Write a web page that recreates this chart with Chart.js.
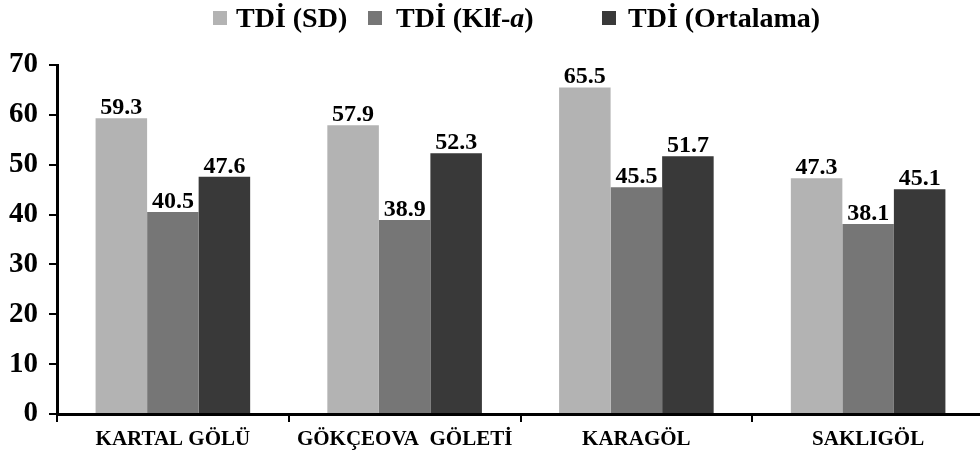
<!DOCTYPE html>
<html>
<head>
<meta charset="utf-8">
<script src="https://cdn.jsdelivr.net/npm/chart.js@4/dist/chart.umd.min.js"></script>
<style>
  html, body { margin:0; padding:0; background:#fff; }
  #wrap { position:relative; width:980px; height:453px; overflow:hidden; }
  #cv { position:absolute; left:0; top:0; }
  .leg { position:absolute; top:4px; font-family:"Liberation Serif","Times New Roman",serif; font-weight:bold; font-size:28px; line-height:28px; color:#000; white-space:nowrap; }
  .box { position:absolute; top:11px; width:14px; height:14px; }
</style>
</head>
<body>
<div id="wrap">
  <canvas id="cv" width="984" height="453" style="width:984px;height:453px"></canvas>
</div>
<script>
const categories = ["KARTAL GÖLÜ", "GÖKÇEOVA  GÖLETİ", "KARAGÖL", "SAKLIGÖL"];
const seriesNames = ["TDİ (SD)", "TDİ (Klf-a)", "TDİ (Ortalama)"];
const tdiSD = [59.3, 57.9, 65.5, 47.3];
const tdiKlfA = [40.5, 38.9, 45.5, 38.1];
const tdiOrtalama = [47.6, 52.3, 51.7, 45.1];
const yTicks = [0, 10, 20, 30, 40, 50, 60, 70];
const colors = ["#b3b3b3", "#767676", "#393939"];

// HTML legend (with italic "a")
const legendPos = [{box:213, text:236}, {box:368, text:396}, {box:602, text:628}];
const wrap = document.getElementById('wrap');
seriesNames.forEach((name, i) => {
  const b = document.createElement('div');
  b.className = 'box';
  b.style.left = legendPos[i].box + 'px';
  b.style.background = colors[i];
  wrap.appendChild(b);
  const t = document.createElement('div');
  t.className = 'leg';
  t.style.left = legendPos[i].text + 'px';
  const m = name.match(/^(.*-)(a)(\))$/);
  if (m) {
    t.appendChild(document.createTextNode(m[1]));
    const it = document.createElement('i');
    it.textContent = m[2];
    t.appendChild(it);
    t.appendChild(document.createTextNode(m[3]));
  } else {
    t.textContent = name;
  }
  wrap.appendChild(t);
});

const valueLabels = {
  id: 'valueLabels',
  afterDatasetsDraw(chart) {
    const ctx = chart.ctx;
    ctx.save();
    ctx.font = 'bold 24px "Liberation Serif", "Times New Roman", serif';
    ctx.fillStyle = '#000';
    ctx.textAlign = 'center';
    ctx.textBaseline = 'alphabetic';
    chart.data.datasets.forEach((ds, di) => {
      chart.getDatasetMeta(di).data.forEach((bar, i) => {
        ctx.fillText(ds.data[i].toFixed(1), bar.x, bar.y - 4);
      });
    });
    ctx.restore();
  }
};

const datasets = [tdiSD, tdiKlfA, tdiOrtalama].map((d, i) => ({
  label: seriesNames[i],
  data: d,
  backgroundColor: colors[i],
  borderWidth: 0,
  categoryPercentage: 0.667,
  barPercentage: 1.0
}));

new Chart(document.getElementById('cv'), {
  type: 'bar',
  data: { labels: categories, datasets },
  options: {
    responsive: false,
    animation: false,
    layout: { padding: { top: 65, left: 0, right: 0, bottom: 0 } },
    plugins: { legend: { display: false }, tooltip: { enabled: false } },
    scales: {
      x: {
        grid: { display: true, drawOnChartArea: false, drawTicks: true, tickLength: 8, color: '#000', lineWidth: 2, offset: true },
        border: { display: true, color: '#000', width: 3 },
        ticks: {
          color: '#000', padding: 5, maxRotation: 0, autoSkip: false,
          font: { family: '"Liberation Serif", "Times New Roman", serif', weight: 'bold', size: 21 }
        },
        afterFit(scale) { scale.height = 39; }
      },
      y: {
        min: 0, max: 70,
        afterBuildTicks(scale) { scale.ticks = yTicks.map(v => ({ value: v })); },
        grid: { display: true, drawOnChartArea: false, drawTicks: true, tickLength: 8, color: '#000', lineWidth: 2 },
        border: { display: true, color: '#000', width: 3 },
        ticks: {
          color: '#000', padding: 11,
          font: { family: '"Liberation Serif", "Times New Roman", serif', weight: 'bold', size: 29 }
        },
        afterFit(scale) { scale.width = 57; }
      }
    }
  },
  plugins: [valueLabels]
});
</script>
</body>
</html>
